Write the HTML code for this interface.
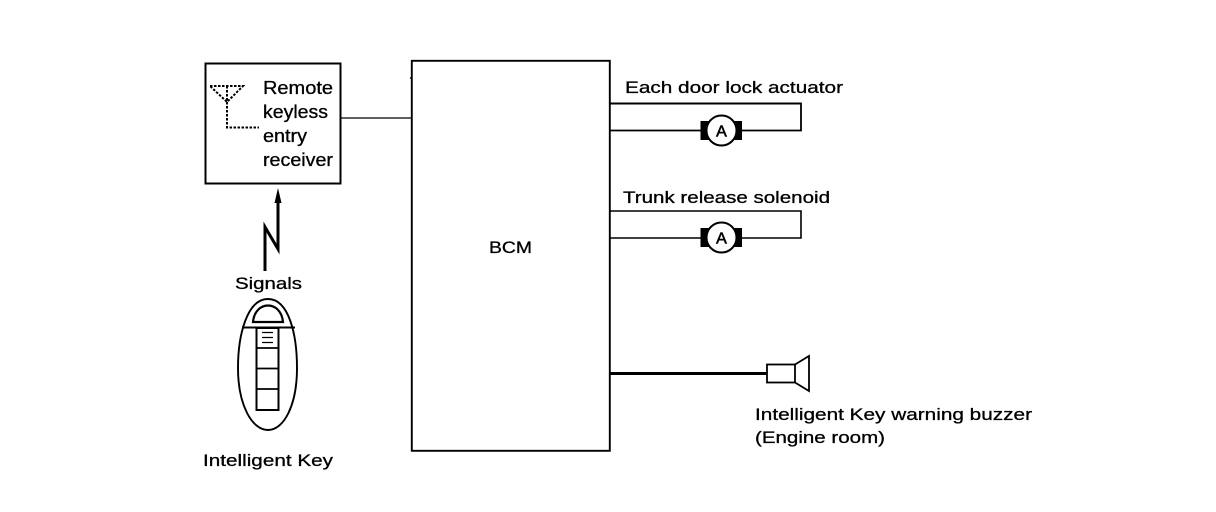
<!DOCTYPE html>
<html>
<head>
<meta charset="utf-8">
<style>
html,body{margin:0;padding:0;background:#fff;width:1216px;height:512px;overflow:hidden}
svg{display:block}
text{font-family:"Liberation Sans",sans-serif;font-size:17px;fill:#000;stroke:#000;stroke-width:.3px}
</style>
</head>
<body>
<svg width="1216" height="512" viewBox="0 0 1216 512" xmlns="http://www.w3.org/2000/svg">
<g fill="none" stroke="#000">
  <!-- Receiver box -->
  <path d="M205.500 63.500H340.500V183.500H205.500Z" stroke-width="2"/>
  <!-- Antenna -->
  <path d="M210 86H243L227 102L210 86M227 86V127.500H259" stroke-width="2" stroke-dasharray="2.500 1.500"/>
  <!-- Receiver to BCM -->
  <path d="M341 118H412" stroke-width="1.200"/>
  <!-- BCM -->
  <rect x="411.800" y="60.800" width="198" height="390" stroke-width="1.900"/>
  <path d="M410 78H412" stroke-width="1.500"/>
  <!-- Door actuator -->
  <path d="M610 103.500H801V130.500H610" stroke-width="1.800"/>
  <path d="M610 103.500H801" stroke-width="2"/>
  <!-- Trunk -->
  <path d="M610 211H801V238H610" stroke-width="1.600"/>
  <!-- Buzzer wire -->
  <path d="M610 373.500H767" stroke-width="3"/>
  <!-- Buzzer -->
  <rect x="767" y="364.500" width="28" height="18" stroke-width="1.800"/>
  <path d="M795 364.500L809 356V391L795 382.500" stroke-width="1.800"/>
  <!-- Key -->
  <path d="M268 299C247 299 238 335 238 368C238 405 252 430 268 430C284 430 297 405 297 368C297 335 289 299 268 299Z" stroke-width="1.900"/>
  <path d="M242 327.500H295" stroke-width="2"/>
  <path d="M253 322C255 300 281 300 283 322Z" stroke-width="2.200"/>
  <rect x="256.500" y="328" width="22" height="82" stroke-width="2"/>
  <path d="M256 348H279M256 368.500H279M256 389H279" stroke-width="1.800"/>
  <path d="M262 332.500H273M262 337.500H273M262 342.500H273" stroke-width="1.300"/>
  <!-- Signal bolt -->
  <path d="M265 271V227L278 249V200" stroke-width="3"/>
</g>
<polygon points="278,188 274.500,203 281.500,203" fill="#000"/>
<!-- Motors -->
<g>
  <rect x="700.500" y="121" width="41.500" height="19" fill="#000"/>
  <circle cx="721.500" cy="130.500" r="15" fill="#fff" stroke="#000" stroke-width="2"/>
  <rect x="700.500" y="228" width="41.500" height="19" fill="#000"/>
  <circle cx="721.500" cy="237.500" r="15" fill="#fff" stroke="#000" stroke-width="2"/>
</g>
<g>
  <text x="721.500" y="136.500" text-anchor="middle" style="font-size:16px;stroke-width:.6px">A</text>
  <text x="721.500" y="243.500" text-anchor="middle" style="font-size:16px;stroke-width:.6px">A</text>
  <text x="263" y="94" textLength="70" lengthAdjust="spacingAndGlyphs" style="font-size:18px">Remote</text>
  <text x="263" y="118" textLength="65" lengthAdjust="spacingAndGlyphs" style="font-size:18px">keyless</text>
  <text x="263" y="142" textLength="44" lengthAdjust="spacingAndGlyphs" style="font-size:18px">entry</text>
  <text x="263" y="166" textLength="70" lengthAdjust="spacingAndGlyphs" style="font-size:18px">receiver</text>
  <text x="235" y="289" textLength="67" lengthAdjust="spacingAndGlyphs">Signals</text>
  <text x="203" y="466" textLength="130" lengthAdjust="spacingAndGlyphs">Intelligent Key</text>
  <text x="489" y="253" textLength="43" lengthAdjust="spacingAndGlyphs">BCM</text>
  <text x="625" y="93" textLength="218" lengthAdjust="spacingAndGlyphs">Each door lock actuator</text>
  <text x="623" y="203" textLength="207" lengthAdjust="spacingAndGlyphs">Trunk release solenoid</text>
  <text x="755" y="420" textLength="277" lengthAdjust="spacingAndGlyphs">Intelligent Key warning buzzer</text>
  <text x="755" y="443" textLength="130" lengthAdjust="spacingAndGlyphs">(Engine room)</text>
</g>
</svg>
</body>
</html>
